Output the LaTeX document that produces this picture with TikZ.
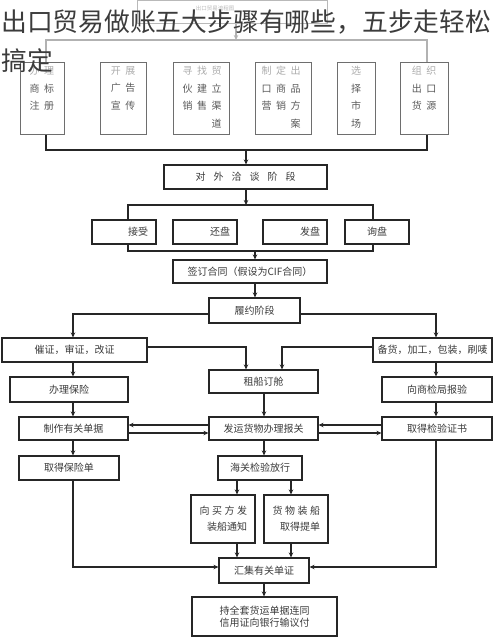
\documentclass[tikz,border=0pt]{standalone}
\usepackage{fontspec}
\setmainfont{Noto Sans CJK SC}
\usetikzlibrary{arrows.meta}
\definecolor{lc}{HTML}{262626}
\definecolor{tc}{HTML}{3A3A3A}
\definecolor{ttl}{HTML}{3C3C3C}
\definecolor{topc}{HTML}{6E6E6E}
\definecolor{topt}{HTML}{5A5A5A}
\definecolor{fadet}{HTML}{ABABAB}
\def\xg{\hspace{4.5pt}}
\def\xw{\hspace{8pt}}
\def\xs{\hspace{2.5pt}}
\begin{document}
\begin{tikzpicture}[x=1pt,y=-1pt,
  bx/.style={draw=lc, line width=1.1pt, inner sep=0pt, text=tc,
    font=\fontsize{10}{12.5}\selectfont},
  tb/.style={draw=topc, line width=1pt, inner sep=0pt},
  tt/.style={anchor=north, inner sep=0pt, text=topt,
    font=\fontsize{10}{17.5}\selectfont},
  ln/.style={draw=lc, line width=1.1pt},
  ar/.style={ln, -{Stealth[length=5pt,width=4.5pt]}},
]
\useasboundingbox (0,0) rectangle (500,638);

% ---------- top header box ----------
\node[tb, draw=gray!55, minimum width=190, minimum height=22.5] (T0) at (232,11.75) {};
\node[inner sep=0pt, text=gray!55, font=\fontsize{5.5}{6}\selectfont] (T0t) at (215,8) {出口贸易流程图};

% ---------- first row (vertical boxes) ----------
\node[tb, minimum width=44, minimum height=72] (B1) at (42,98) {};
\node[tb, minimum width=46, minimum height=72] (B2) at (123,98) {};
\node[tb, minimum width=56, minimum height=72] (B3) at (201,98) {};
\node[tb, minimum width=56, minimum height=72] (B4) at (283,98) {};
\node[tb, minimum width=38, minimum height=72] (B5) at (356,98) {};
\node[tb, minimum width=48, minimum height=72] (B6) at (424,98) {};

\node[tt, align=center] (B1t) at (42,66) {{\color{fadet}办\xg 理}\\商\xg 标\\注\xg 册};
\node[tt, align=center] (B2t) at (123,66) {{\color{fadet}开\xg 展}\\广\xg 告\\宣\xg 传};
\node[tt, align=right, text width=39] (B3t) at (202,66) {{\color{fadet}寻\xg 找\xg 贸}\\伙\xg 建\xg 立\\销\xg 售\xg 渠\\道};
\node[tt, align=right, text width=39] (B4t) at (281,66) {{\color{fadet}制\xg 定\xg 出}\\口\xg 商\xg 品\\营\xg 销\xg 方\\案};
\node[tt, align=center] (B5t) at (356,66) {{\color{fadet}选}\\择\\市\\场};
\node[tt, align=center] (B6t) at (424,66) {{\color{fadet}组\xg 织}\\出\xg 口\\货\xg 源};

\coordinate (b1m) at (236,40);
\coordinate (b1L) at (46,40);
\coordinate (b1R) at (427,40);
\draw[ar, draw=gray!60] (T0.south -| b1m) -- (b1m);
\draw[ln, draw=gray!60] (B1.north -| b1L) -- (b1L) -- (b1R) -- (B6.north -| b1R);

\coordinate (b2L) at (46,150);
\coordinate (b2R) at (427,150);
\coordinate (b2m) at (246,150);
\draw[ln] (B1.south -| b2L) -- (b2L) -- (b2R) -- (B6.south -| b2R);

% ---------- negotiation stage ----------
\node[bx, minimum width=163, minimum height=24] (N1) at (245.5,177) {对\xw 外\xw 洽\xw 谈\xw 阶\xw 段};
\draw[ar] (b2m) -- (N1.north -| b2m);

\coordinate (b3L) at (128,205);
\coordinate (b3R) at (373,205);
\coordinate (b3m) at (246,205);
\draw[ar] (N1.south -| b3m) -- (b3m);

\node[bx, minimum width=64, minimum height=24, text width=48, align=right] (A) at (124,232) {接受};
\node[bx, minimum width=64, minimum height=24, text width=50, align=right] (Bq) at (205,232) {还盘};
\node[bx, minimum width=64, minimum height=24, text width=50, align=right] (C) at (295,232) {发盘};
\node[bx, minimum width=64, minimum height=24] (D) at (377,232) {询盘};

\draw[ln] (A.north -| b3L) -- (b3L) -- (b3R) -- (D.north -| b3R);

\coordinate (b4L) at (128,251);
\coordinate (b4R) at (373,251);
\coordinate (b4m) at (255,251);
\draw[ln] (A.south -| b4L) -- (b4L) -- (b4R) -- (D.south -| b4R);

\node[bx, minimum width=154, minimum height=23] (E) at (250,271.5) {签订合同（假设为CIF合同）};
\draw[ar] (b4m) -- (E.north -| b4m);

\node[bx, minimum width=91, minimum height=25] (F) at (254.5,310.5) {履约阶段};
\draw[ar] (E.south -| b4m) -- (F.north -| b4m);

% ---------- performance stage ----------
\node[bx, minimum width=145, minimum height=24] (G) at (74.5,350) {催证，审证，改证};
\node[bx, minimum width=119, minimum height=24] (H) at (432.5,350) {备货，加工，包装，刷唛};

\coordinate (fL) at (73,314);
\coordinate (fR) at (436,314);
\draw[ar] (F.west |- fL) -- (fL) -- (G.north -| fL);
\draw[ar] (F.east |- fR) -- (fR) -- (H.north -| fR);

\node[bx, minimum width=109, minimum height=23] (I) at (263.5,381.5) {租船订舱};
\coordinate (gI) at (246,347);
\coordinate (hI) at (282,347);
\draw[ar] (G.east |- gI) -- (gI) -- (I.north -| gI);
\draw[ar] (H.west |- hI) -- (hI) -- (I.north -| hI);

\node[bx, minimum width=118, minimum height=25] (J) at (69,389.5) {办理保险};
\node[bx, minimum width=110, minimum height=25] (K) at (437,389.5) {向商检局报验};
\draw[ar] (G.south -| fL) -- (J.north -| fL);
\draw[ar] (H.south -| fR) -- (K.north -| fR);

\node[bx, minimum width=109, minimum height=23] (L) at (73.5,428.5) {制作有关单据};
\node[bx, minimum width=109, minimum height=23] (M) at (263.5,428.5) {发运货物办理报关};
\node[bx, minimum width=110, minimum height=23] (N) at (437,428.5) {取得检验证书};

\coordinate (mx) at (264,0);
\draw[ar] (J.south -| fL) -- (L.north -| fL);
\draw[ar] (I.south -| mx) -- (M.north -| mx);
\draw[ar] (K.south -| fR) -- (N.north -| fR);

\coordinate (up) at (0,425);
\coordinate (dn) at (0,433);
\draw[ar] (M.west |- up) -- (L.east |- up);
\draw[ar] (L.east |- dn) -- (M.west |- dn);
\draw[ar] (N.west |- up) -- (M.east |- up);
\draw[ar] (M.east |- dn) -- (N.west |- dn);

\node[bx, minimum width=100, minimum height=24] (O) at (69,468) {取得保险单};
\node[bx, minimum width=84, minimum height=24] (P) at (260,468) {海关检验放行};
\draw[ar] (L.south -| fL) -- (O.north -| fL);
\draw[ar] (M.south -| mx) -- (P.north -| mx);

\node[bx, minimum width=64, minimum height=48, text width=48, align=right,
  font=\fontsize{10}{16}\selectfont] (Q) at (223,519) {向\xs 买\xs 方\xs 发\\装船通知};
\node[bx, minimum width=64, minimum height=48, text width=48, align=right,
  font=\fontsize{10}{16}\selectfont] (R) at (296,519) {货\xs 物\xs 装\xs 船\\取得提单};
\coordinate (qx) at (237,0);
\coordinate (rx) at (291,0);
\draw[ar] (P.south -| qx) -- (Q.north -| qx);
\draw[ar] (P.south -| rx) -- (R.north -| rx);

\node[bx, minimum width=90, minimum height=25] (S) at (264,570.5) {汇集有关单证};
\draw[ar] (Q.south -| qx) -- (S.north -| qx);
\draw[ar] (R.south -| rx) -- (S.north -| rx);

\coordinate (sL) at (73,567);
\coordinate (sR) at (436,567);
\draw[ar] (O.south -| sL) -- (sL) -- (S.west |- sL);
\draw[ar] (N.south -| sR) -- (sR) -- (S.east |- sR);

\node[bx, minimum width=145, minimum height=39, align=center] (T) at (264.5,616.5) {持全套货运单据连同\\信用证向银行输议付};
\draw[ar] (S.south -| mx) -- (T.north -| mx);

% ---------- title overlay ----------
\node[anchor=base west, inner sep=0pt, text=ttl, font=\fontsize{25.8}{30}\selectfont] (ttl1) at (1,31.3) {出口贸易做账五大步骤有哪些，五步走轻松};
\node[anchor=base west, inner sep=0pt, text=ttl, font=\fontsize{25.8}{30}\selectfont] (ttl2) at (1,70.8) {搞定};
\end{tikzpicture}
\end{document}
